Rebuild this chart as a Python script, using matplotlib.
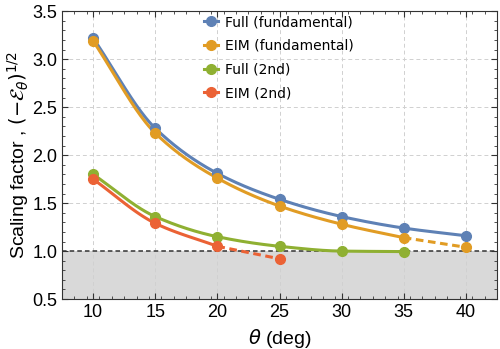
import numpy as np
import matplotlib.pyplot as plt

theta = [10, 15, 20, 25, 30, 35, 40]
full_fund = [3.22, 2.28, 1.81, 1.54, 1.36, 1.24, 1.16]
eim_fund = [3.19, 2.23, 1.76, 1.47, 1.28, 1.14, 1.04]
full_2nd = [1.80, 1.36, 1.15, 1.05, 1.00, 0.995]
eim_2nd = [1.75, 1.29, 1.05, 0.92]

# how many points of each series are joined by a solid line (rest dashed)
solid_n = {"full_fund": 7, "eim_fund": 6, "full_2nd": 6, "eim_2nd": 3}

colors = {"full_fund": "#5E81B5", "eim_fund": "#E19C24",
          "full_2nd": "#8FB032", "eim_2nd": "#EB6235"}
labels = {"full_fund": "Full (fundamental)", "eim_fund": "EIM (fundamental)",
          "full_2nd": "Full (2nd)", "eim_2nd": "EIM (2nd)"}
series = {"full_fund": full_fund, "eim_fund": eim_fund,
          "full_2nd": full_2nd, "eim_2nd": eim_2nd}


def pchip(x, y, n=40):
    # monotone cubic curve through the points, only for drawing
    x = np.asarray(x, float)
    y = np.asarray(y, float)
    h = np.diff(x)
    d = np.diff(y) / h
    m = np.zeros_like(y)
    for i in range(1, len(y) - 1):
        if d[i - 1] * d[i] > 0:
            w1 = 2 * h[i] + h[i - 1]
            w2 = h[i] + 2 * h[i - 1]
            m[i] = (w1 + w2) / (w1 / d[i - 1] + w2 / d[i])
    m[0] = d[0]
    m[-1] = d[-1]
    xs, ys = [], []
    for i in range(len(h)):
        t = np.linspace(0, 1, n)
        h00 = 2 * t**3 - 3 * t**2 + 1
        h10 = t**3 - 2 * t**2 + t
        h01 = -2 * t**3 + 3 * t**2
        h11 = t**3 - t**2
        xs.append(x[i] + t * h[i])
        ys.append(h00 * y[i] + h10 * h[i] * m[i] + h01 * y[i + 1] + h11 * h[i] * m[i + 1])
    return np.concatenate(xs), np.concatenate(ys)


plt.rcParams['font.family'] = ['Liberation Sans', 'DejaVu Sans']
plt.rcParams['mathtext.fontset'] = 'dejavusans'

fig = plt.figure(figsize=(5, 3.49), dpi=100)
ax = fig.add_axes([0.124, 0.143, 0.870, 0.825])

ax.axhspan(0.5, 1.0, color="#D9D9D9", zorder=0, lw=0)
ax.axhline(1.0, color="#333333", ls=(0, (3, 2)), lw=1.1, zorder=2)

for key, vals in series.items():
    x = theta[:len(vals)]
    ns = solid_n[key]
    c = colors[key]
    xs, ys = pchip(x[:ns], vals[:ns])
    ax.plot(xs, ys, color=c, lw=2.2, zorder=3)
    if ns < len(vals):
        ax.plot(x[ns - 1:], vals[ns - 1:], color=c, lw=2.2, ls=(0, (2.5, 1.5)), zorder=3)
    ax.plot(x, vals, "o", color=c, ms=7, zorder=4)
    ax.plot([], [], "-o", color=c, ms=7, lw=2.2, label=labels[key])

ax.set_xlim(7.5, 42.5)
ax.set_ylim(0.5, 3.5)
ax.set_xticks([10, 15, 20, 25, 30, 35, 40])
ax.set_yticks([0.5, 1.0, 1.5, 2.0, 2.5, 3.0, 3.5])
ax.set_yticklabels(["0.5", "1.0", "1.5", "2.0", "2.5", "3.0", "3.5"])
ax.set_xticks(np.arange(7.5, 42.6, 1), minor=True)
ax.set_yticks(np.arange(0.5, 3.51, 0.1), minor=True)
ax.tick_params(which="both", direction="in", top=True, right=True, labelsize=13, color="#333333")
ax.tick_params(which="major", length=4)
ax.tick_params(which="minor", length=2)
ax.grid(True, which="major", color="#D0D0D0", ls=(0, (4, 3)), lw=0.7, zorder=0)
for s in ax.spines.values():
    s.set_color("#333333")

ax.set_xlabel(r"$\theta$ (deg)", fontsize=14)
ax.set_ylabel(r"Scaling factor , $(-\mathcal{E}_\theta)^{1/2}$", fontsize=14, labelpad=1)

leg = ax.legend(loc="upper left", bbox_to_anchor=(0.297, 1.03), frameon=False,
                prop={"family": "DejaVu Sans", "size": 10}, handlelength=1.0,
                handletextpad=0.5, labelspacing=0.7)

fig.savefig("out.png", dpi=100)
